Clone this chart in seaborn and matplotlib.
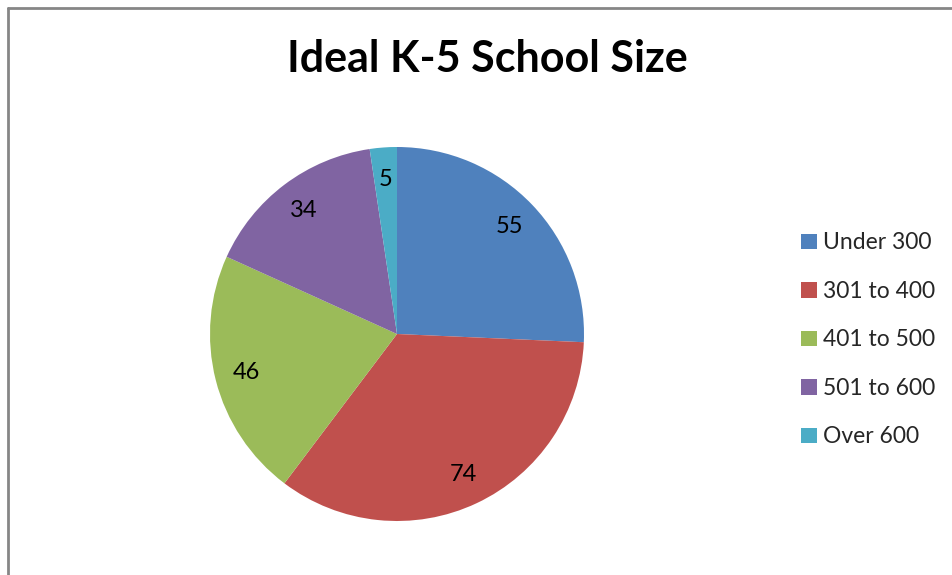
import matplotlib
matplotlib.use("Agg")
import matplotlib.pyplot as plt
from matplotlib.lines import Line2D
from matplotlib.patches import Patch
import seaborn as sns

categories = ["Under 300", "301 to 400", "401 to 500", "501 to 600", "Over 600"]
values = [55, 74, 46, 34, 5]
colors = ["#4F81BD", "#C0504D", "#9BBB59", "#8064A2", "#4BACC6"]
title = "Ideal K-5 School Size"

sns.set_theme(style="white")
plt.rcParams["font.family"] = ["Lato", "DejaVu Sans"]

W, H = 953, 575
fig = plt.figure(figsize=(W / 100, H / 100), dpi=100)
fig.patch.set_facecolor("white")

cx, cy, r = 397, 334, 187
ax = fig.add_axes([(cx - r) / W, (H - cy - r) / H, 2 * r / W, 2 * r / H])
wedges, texts, autotexts = ax.pie(
    values,
    colors=sns.color_palette(colors),
    startangle=90,
    counterclock=False,
    radius=1,
    autopct=lambda p: f"{round(p * sum(values) / 100):d}",
    pctdistance=0.83,
    wedgeprops=dict(linewidth=0),
    textprops=dict(fontsize=17, color="black"),
)
ax.set_xlim(-1, 1)
ax.set_ylim(-1, 1)
ax.set_aspect("equal")
ax.axis("off")

fig.text(487 / W, 1 - 59 / H, title, ha="center", va="center",
         fontsize=31, fontweight="bold", color="black")

handles = [Patch(facecolor=c, edgecolor="none") for c in colors]
fig.legend(handles, categories, loc="upper left",
           bbox_to_anchor=(790 / W, 1 - 221 / H), frameon=False,
           fontsize=16.5, handlelength=0.66, handleheight=0.66,
           handletextpad=0.3, labelspacing=1.2, borderpad=0)

# chart border (top and left visible)
fig.add_artist(Line2D([8 / W, 8 / W], [0, 1 - 8 / H], transform=fig.transFigure,
                      color="#868686", linewidth=2))
fig.add_artist(Line2D([8 / W, 1], [1 - 8 / H, 1 - 8 / H], transform=fig.transFigure,
                      color="#868686", linewidth=2))

fig.savefig("out.png", dpi=100, facecolor="white")
